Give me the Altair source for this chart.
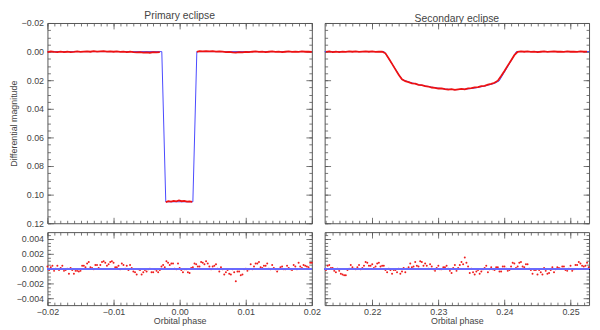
import altair as alt
import pandas as pd

FONT = "Liberation Sans"
RED = "#ee1111"
BLUE = "#4848ff"

# ---------------- Primary eclipse: observations ----------------
P_PRE_PHASE = [-0.0200, -0.0195, -0.0190, -0.0185, -0.0180, -0.0175, -0.0170, -0.0165, -0.0160, -0.0155,
               -0.0150, -0.0145, -0.0140, -0.0135, -0.0130, -0.0125, -0.0120, -0.0115, -0.0110, -0.0105,
               -0.0100, -0.0095, -0.0090, -0.0085, -0.0080, -0.0075, -0.0070, -0.0065, -0.0060, -0.0055,
               -0.0050, -0.0045, -0.0040, -0.0035, -0.0030]
P_PRE_MAG = [0.0003, -0.0002, 0.0002, 0.0004, 0.0000, 0.0003, 0.0001, 0.0004, 0.0002, -0.0001,
             0.0002, 0.0000, -0.0002, 0.0001, -0.0003, 0.0000, -0.0002, -0.0003, 0.0000, -0.0002,
             0.0001, -0.0001, 0.0002, 0.0000, 0.0003, 0.0001, 0.0004, 0.0006, 0.0003, 0.0007,
             0.0005, 0.0008, 0.0004, 0.0006, 0.0003]
P_BOT_PHASE = [-0.0021, -0.0017, -0.0013, -0.0009, -0.0005, -0.0001, 0.0003, 0.0007, 0.0011, 0.0015, 0.0019]
P_BOT_MAG = [0.1052, 0.1046, 0.1049, 0.1044, 0.1047, 0.1041, 0.1046, 0.1043, 0.1049, 0.1047, 0.1051]
P_POST_PHASE = [0.0026, 0.0030, 0.0035, 0.0040, 0.0045, 0.0050, 0.0055, 0.0060, 0.0065, 0.0070,
                0.0075, 0.0080, 0.0085, 0.0090, 0.0095, 0.0100, 0.0105, 0.0110, 0.0115, 0.0120,
                0.0125, 0.0130, 0.0135, 0.0140, 0.0145, 0.0150, 0.0155, 0.0160, 0.0165, 0.0170,
                0.0175, 0.0180, 0.0185, 0.0190, 0.0195, 0.0200]
P_POST_MAG = [0.0002, -0.0003, -0.0001, -0.0004, -0.0002, -0.0003, 0.0000, -0.0002, 0.0001, 0.0004,
              0.0002, 0.0005, 0.0007, 0.0004, 0.0006, 0.0002, 0.0004, 0.0001, -0.0001, 0.0002,
              0.0000, 0.0003, 0.0001, -0.0001, 0.0002, 0.0000, 0.0003, 0.0001, -0.0001, 0.0002,
              0.0000, 0.0002, -0.0001, 0.0001, 0.0000, 0.0002]

# Primary eclipse: model
P_MOD_PHASE = [-0.0200, -0.0027, -0.0021, 0.0020, 0.0026, 0.0200]
P_MOD_MAG = [0.0, 0.0, 0.105, 0.105, 0.0, 0.0]

# ---------------- Secondary eclipse ----------------
S_PHASE = [0.2130, 0.2135, 0.2140, 0.2145, 0.2150, 0.2155, 0.2160, 0.2165, 0.2170, 0.2175,
           0.2180, 0.2185, 0.2190, 0.2195, 0.2200, 0.2205, 0.2210, 0.2215, 0.2220, 0.2225,
           0.2230, 0.2235, 0.2240, 0.2245, 0.2250, 0.2255, 0.2260, 0.2265, 0.2270, 0.2275,
           0.2280, 0.2285, 0.2290, 0.2295, 0.2300, 0.2305, 0.2310, 0.2315, 0.2320, 0.2325,
           0.2330, 0.2335, 0.2340, 0.2345, 0.2350, 0.2355, 0.2360, 0.2365, 0.2370, 0.2375,
           0.2380, 0.2385, 0.2390, 0.2395, 0.2400, 0.2405, 0.2410, 0.2415, 0.2420, 0.2425,
           0.2430, 0.2435, 0.2440, 0.2445, 0.2450, 0.2455, 0.2460, 0.2465, 0.2470, 0.2475,
           0.2480, 0.2485, 0.2490, 0.2495, 0.2500, 0.2505, 0.2510, 0.2515, 0.2520, 0.2525]
S_OBS_MAG = [0.0002, -0.0001, 0.0003, 0.0001, 0.0004, 0.0000, 0.0002, -0.0002, 0.0001, -0.0001,
             0.0002, 0.0000, -0.0002, 0.0001, -0.0001, 0.0002, 0.0000, 0.0001, 0.0012, 0.0048,
             0.0086, 0.0124, 0.0162, 0.0193, 0.0207, 0.0214, 0.0222, 0.0224, 0.0232, 0.0235,
             0.0242, 0.0244, 0.0251, 0.0253, 0.0258, 0.0257, 0.0263, 0.0265, 0.0262, 0.0268,
             0.0264, 0.0261, 0.0264, 0.0257, 0.0256, 0.0250, 0.0248, 0.0241, 0.0239, 0.0231,
             0.0226, 0.0218, 0.0203, 0.0170, 0.0135, 0.0098, 0.0062, 0.0025, 0.0002, -0.0002,
             0.0001, -0.0001, 0.0002, 0.0000, 0.0003, 0.0001, -0.0001, 0.0002, 0.0000, -0.0002,
             0.0001, 0.0000, 0.0002, -0.0001, 0.0001, 0.0000, 0.0002, -0.0001, 0.0001, 0.0000]
S_MOD_PHASE = [0.2128, 0.2218, 0.2232, 0.2245, 0.2255, 0.2270, 0.2290, 0.2310, 0.2325, 0.2340,
               0.2355, 0.2370, 0.2385, 0.2392, 0.2405, 0.2418, 0.2528]
S_MOD_MAG = [0.0, 0.0, 0.0100, 0.0195, 0.0212, 0.0231, 0.0249, 0.0262, 0.0266, 0.0263,
             0.0255, 0.0241, 0.0222, 0.0205, 0.0105, 0.0, 0.0]

# ---------------- Residuals (values in units of 1e-4 mag) ----------------
L_PHASE = [-0.0200, -0.0195, -0.0190, -0.0185, -0.0180, -0.0175, -0.0170, -0.0165, -0.0160, -0.0155,
           -0.0150, -0.0145, -0.0140, -0.0135, -0.0130, -0.0125, -0.0120, -0.0115, -0.0110, -0.0105,
           -0.0100, -0.0095, -0.0090, -0.0085, -0.0080, -0.0075, -0.0070, -0.0065, -0.0060, -0.0055,
           -0.0050, -0.0045, -0.0040, -0.0035, -0.0030, -0.0025, -0.0020, -0.0015, -0.0010, -0.0005,
           0.0000, 0.0005, 0.0010, 0.0015, 0.0020, 0.0025, 0.0030, 0.0035, 0.0040, 0.0045,
           0.0050, 0.0055, 0.0060, 0.0065, 0.0070, 0.0075, 0.0080, 0.0085, 0.0090, 0.0095,
           0.0100, 0.0105, 0.0110, 0.0115, 0.0120, 0.0125, 0.0130, 0.0135, 0.0140, 0.0145,
           0.0150, 0.0155, 0.0160, 0.0165, 0.0170, 0.0175, 0.0180, 0.0185, 0.0190, 0.0195,
           0.0200]
L_PHASE_B = [-0.01975, -0.01925, -0.01875, -0.01825, -0.01775, -0.01725, -0.01675, -0.01625, -0.01575, -0.01525,
             -0.01475, -0.01425, -0.01375, -0.01325, -0.01275, -0.01225, -0.01175, -0.01125, -0.01075, -0.01025,
             -0.00975, -0.00925, -0.00875, -0.00825, -0.00775, -0.00725, -0.00675, -0.00625, -0.00575, -0.00525,
             -0.00475, -0.00425, -0.00375, -0.00325, -0.00275, -0.00225, -0.00175, -0.00125, -0.00075, -0.00025,
             0.00025, 0.00075, 0.00125, 0.00175, 0.00225, 0.00275, 0.00325, 0.00375, 0.00425, 0.00475,
             0.00525, 0.00575, 0.00625, 0.00675, 0.00725, 0.00775, 0.00825, 0.00875, 0.00925, 0.00975,
             0.01025, 0.01075, 0.01125, 0.01175, 0.01225, 0.01275, 0.01325, 0.01375, 0.01425, 0.01475,
             0.01525, 0.01575, 0.01625, 0.01675, 0.01725, 0.01775, 0.01825, 0.01875, 0.01925, 0.01975]
L_RES_A = [3, 2, -3, 4, 1, -3, 0, 1, -7, -3,
           -3, 4, 7, 2, -1, 5, 5, 10, 4, 9,
           8, 2, -1, 5, 4, 5, -4, -8, -2, -5,
           -4, 0, -5, -3, -2, 5, 10, 5, 7, -1,
           1, -5, -1, -6, 2, 6, 3, 8, 10, 3,
           3, 6, -4, -1, -5, -7, -1, -17, -4, -8,
           0, -1, -1, 7, 9, 1, 4, 0, 5, -1,
           -1, 3, -1, 1, -2, 3, 8, 1, 4, 2,
           8]
L_RES_B = [-2, 4, 0, -2, 4, -2, -7, -2, -3, -4,
           4, 2, 9, 1, 5, 1, 9, 8, 6, 10,
           2, 4, 7, 0, -2, 1, -5, -1, -8, -2,
           -1, -5, -1, -5, 3, 2, 8, 7, 0, 7,
           -2, -1, -5, 1, 7, 3, 9, 6, 7, -1,
           4, 0, 2, -8, -2, -8, -5, -4, -9, -1,
           -3, 6, 3, 7, 2, 4, 7, -1, 1, -4,
           2, -1, 4, -1, 5, -1, 3, 5, 3, 8]
R_PHASE_B = [0.21325, 0.21375, 0.21425, 0.21475, 0.21525, 0.21575, 0.21625, 0.21675, 0.21725, 0.21775,
             0.21825, 0.21875, 0.21925, 0.21975, 0.22025, 0.22075, 0.22125, 0.22175, 0.22225, 0.22275,
             0.22325, 0.22375, 0.22425, 0.22475, 0.22525, 0.22575, 0.22625, 0.22675, 0.22725, 0.22775,
             0.22825, 0.22875, 0.22925, 0.22975, 0.23025, 0.23075, 0.23125, 0.23175, 0.23225, 0.23275,
             0.23325, 0.23375, 0.23425, 0.23475, 0.23525, 0.23575, 0.23625, 0.23675, 0.23725, 0.23775,
             0.23825, 0.23875, 0.23925, 0.23975, 0.24025, 0.24075, 0.24125, 0.24175, 0.24225, 0.24275,
             0.24325, 0.24375, 0.24425, 0.24475, 0.24525, 0.24575, 0.24625, 0.24675, 0.24725, 0.24775,
             0.24825, 0.24875, 0.24925, 0.24975, 0.25025, 0.25075, 0.25125, 0.25175, 0.25225, 0.25275]
R_RES_A = [-2, 5, 1, -5, -3, -8, -9, 0, 2, -1,
           5, 1, 9, 4, 6, 3, 8, 4, -2, 0,
           -7, -2, 0, -4, -5, 2, 2, 9, 3, 9,
           7, 0, 3, -3, 4, -1, 2, 0, -6, 5,
           1, 9, 15, 3, 0, -8, -2, -4, 1, -5,
           2, -2, 2, -4, 3, -3, 3, 7, 3, 9,
           2, 6, -2, -2, -8, -5, 1, -7, -2, -5,
           2, 0, 3, -3, 4, -1, 5, 7, 3, 8]
R_RES_B = [4, 1, -3, 0, -7, -9, -2, 5, 0, 2,
           -1, 4, 8, 4, 1, 7, 3, 4, -5, -2,
           -2, -5, -7, 1, 0, 7, 3, 4, 10, 4,
           4, 6, -1, 1, -1, 2, 4, -3, 1, -3,
           5, 6, 8, -6, -5, -4, -7, -1, 4, -1,
           -1, 2, -4, 3, 0, -2, 8, 1, 8, 3,
           6, 0, -7, -2, -2, -8, -3, -6, 2, -1,
           1, 3, -2, 0, -3, 5, 9, 4, 4, 2]

# ---------------- Axes / ticks ----------------
XL_DOM = [-0.02, 0.02]
XR_DOM = [0.2128, 0.2528]
YT_DOM = [-0.02, 0.12]
YB_DOM = [-0.0049, 0.0049]
XL_MAJOR = [-0.02, -0.01, 0.0, 0.01, 0.02]
XR_MAJOR = [0.22, 0.23, 0.24, 0.25]
YT_MAJOR = [-0.02, 0.0, 0.02, 0.04, 0.06, 0.08, 0.10, 0.12]
YB_MAJOR = [-0.004, -0.002, 0.0, 0.002, 0.004]
XL_MINOR = [round(-0.02 + 0.001 * k, 4) for k in range(41)]
XR_MINOR = [round(0.213 + 0.001 * k, 4) for k in range(40)]
YT_MINOR = [round(-0.02 + 0.005 * k, 4) for k in range(29)]
YB_MINOR = [round(-0.0045 + 0.0005 * k, 5) for k in range(19)]

W, H1, H2 = 268, 203, 74


def df_of(phase, val, seg="a"):
    return pd.DataFrame({"phase": phase, "v": val, "seg": seg})


def res_df(phase, val_e4, seg):
    return pd.DataFrame({"phase": phase, "v": [x * 1e-4 for x in val_e4], "seg": seg})


def inward(orient, vals, size, off):
    return alt.Axis(orient=orient, values=vals, offset=off, tickSize=size, ticks=True,
                    labels=False, domain=False, grid=False, title=None,
                    minExtent=0, maxExtent=0)


def panel(data_layers, base, xdom, ydom, yrev, h, xmaj, xmin_, ymaj, ymin_,
          xlabels, ylabels, xfmt, yfmt, xtitle, ytitle, title=None):
    xs = alt.Scale(domain=xdom, nice=False, zero=False)
    ys = alt.Scale(domain=ydom, nice=False, zero=False, reverse=yrev)
    specs = [
        (inward("top", xmaj, 6, -h), inward("right", ymaj, 6, -W)),
        (inward("bottom", xmaj, 6, -h), inward("left", ymaj, 6, -W)),
        (inward("top", xmin_, 3, -h), inward("right", ymin_, 3, -W)),
        (inward("bottom", xmin_, 3, -h), inward("left", ymin_, 3, -W)),
    ]
    if xlabels or ylabels:
        lx = None
        ly = None
        if xlabels:
            kw = dict(orient="bottom", values=xmaj, format=xfmt, ticks=False, domain=False,
                      grid=False, labelPadding=3, labelFlush=False, labelOverlap=False,
                      titlePadding=0)
            lx = alt.Axis(title=xtitle, **kw) if xtitle else alt.Axis(title=None, **kw)
        if ylabels:
            kw = dict(orient="left", values=ymaj, format=yfmt, ticks=False, domain=False,
                      grid=False, labelPadding=4, labelOverlap=False, titlePadding=3)
            ly = alt.Axis(title=ytitle, **kw) if ytitle else alt.Axis(title=None, **kw)
        specs.append((lx, ly))
    layers = []
    for mk in data_layers:
        layers.append(mk(xs, ys))
    for ax, ay in specs:
        layers.append(
            alt.Chart(base).mark_point(opacity=0, size=1).encode(
                x=alt.X("phase:Q", scale=xs, axis=ax),
                y=alt.Y("v:Q", scale=ys, axis=ay),
            )
        )
    props = dict(width=W, height=h)
    if title:
        props["title"] = alt.TitleParams(title, offset=-2)
    return alt.layer(*layers).resolve_axis(x="independent", y="independent").properties(**props)


def line_layer(df, color, width, seg=False):
    def mk(xs, ys):
        enc = dict(x=alt.X("phase:Q", scale=xs, axis=None), y=alt.Y("v:Q", scale=ys, axis=None))
        if seg:
            enc["detail"] = "seg:N"
        return alt.Chart(df).mark_line(color=color, strokeWidth=width).encode(**enc)
    return mk


def dots_layer(df):
    def mk(xs, ys):
        return alt.Chart(df).mark_circle(color=RED, size=4, opacity=0.95).encode(
            x=alt.X("phase:Q", scale=xs, axis=None), y=alt.Y("v:Q", scale=ys, axis=None))
    return mk


def zero_layer(df):
    def mk(xs, ys):
        return alt.Chart(df).mark_rule(color="#6a6aff", strokeWidth=0.9).encode(
            y=alt.YDatum(0, scale=ys, axis=None))
    return mk


p_obs = pd.concat([df_of(P_PRE_PHASE, P_PRE_MAG, "pre"),
                   df_of(P_BOT_PHASE, P_BOT_MAG, "bot"),
                   df_of(P_POST_PHASE, P_POST_MAG, "post")])
p_mod = df_of(P_MOD_PHASE, P_MOD_MAG)
s_obs = df_of(S_PHASE, S_OBS_MAG)
s_mod = df_of(S_MOD_PHASE, S_MOD_MAG)
l_res = pd.concat([res_df(L_PHASE, L_RES_A, "A"), res_df(L_PHASE_B, L_RES_B, "B")])
r_res = pd.concat([res_df(S_PHASE, R_RES_A, "A"), res_df(R_PHASE_B, R_RES_B, "B")])

tl = panel([line_layer(p_mod, BLUE, 1), line_layer(p_obs, RED, 1.8, seg=True)], p_obs,
           XL_DOM, YT_DOM, True, H1, XL_MAJOR, XL_MINOR, YT_MAJOR, YT_MINOR,
           False, True, ".2f", ".2f", None, "Differential magnitude", "Primary eclipse")
tr = panel([line_layer(s_mod, BLUE, 1), line_layer(s_obs, RED, 1.8)], s_obs,
           XR_DOM, YT_DOM, True, H1, XR_MAJOR, XR_MINOR, YT_MAJOR, YT_MINOR,
           False, False, ".2f", ".2f", None, None, "Secondary eclipse")
bl = panel([dots_layer(l_res), zero_layer(l_res)], l_res,
           XL_DOM, YB_DOM, False, H2, XL_MAJOR, XL_MINOR, YB_MAJOR, YB_MINOR,
           True, True, ".2f", ".3f", "Orbital phase", None)
br = panel([dots_layer(r_res), zero_layer(r_res)], r_res,
           XR_DOM, YB_DOM, False, H2, XR_MAJOR, XR_MINOR, YB_MAJOR, YB_MINOR,
           True, False, ".2f", ".3f", "Orbital phase", None)

row1 = alt.hconcat(tl, tr, spacing=13, bounds="flush")
row2 = alt.hconcat(bl, br, spacing=13, bounds="flush")

chart = (
    alt.vconcat(row1, row2, spacing=2)
    .properties(padding=0)
    .configure_view(stroke="#555555", strokeWidth=1)
    .configure_axis(labelFont=FONT, labelFontSize=9, labelColor="#444444",
                    titleFont=FONT, titleFontSize=9, titleColor="#444444",
                    titleFontWeight="normal", tickColor="#555555", tickWidth=0.8)
    .configure_title(font=FONT, fontSize=10.5, color="#444444", fontWeight="normal")
)

chart.save("out.html", embed_options={"renderer": "svg", "actions": False})
